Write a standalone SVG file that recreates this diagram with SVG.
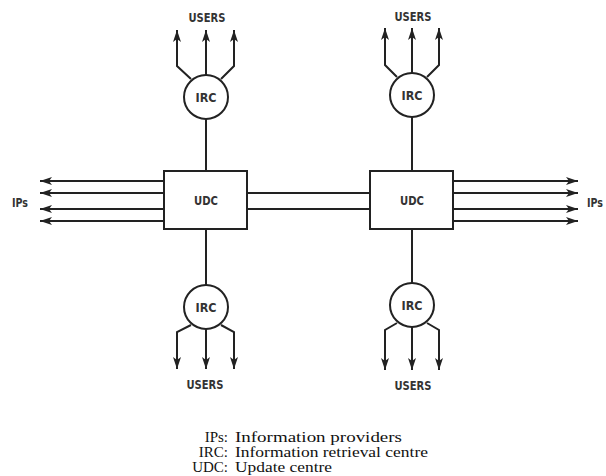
<svg xmlns="http://www.w3.org/2000/svg" width="606" height="476" viewBox="0 0 606 476">
<style>
.ln{stroke:#222;stroke-width:2;fill:none}
.box{stroke:#222;stroke-width:2;fill:#fff}
.lbl{font-family:"Liberation Sans Narrow","DejaVu Sans Condensed","Liberation Sans",sans-serif;font-weight:bold;font-size:12.5px;fill:#333;text-anchor:middle}
.leg{font-family:"Liberation Serif","Times New Roman",serif;font-size:15px;fill:#111}
</style>
<defs>
<marker id="ah" viewBox="0 0 12 8" refX="12" refY="4" markerWidth="12" markerHeight="8" markerUnits="userSpaceOnUse" orient="auto">
<path d="M0,0 L12,4 L0,8 L3,4 Z" fill="#222"/>
</marker>
</defs>
<rect width="606" height="476" fill="#fff"/>
<g id="connectors">
<path class="ln" d="M206,75 V30" marker-end="url(#ah)"/>
<path class="ln" d="M191,79 L177,66 V30" marker-end="url(#ah)"/>
<path class="ln" d="M221,79 L234,66 V30" marker-end="url(#ah)"/>
<line class="ln" x1="206" y1="119" x2="206" y2="171"/>
<path class="ln" d="M412,73 V28" marker-end="url(#ah)"/>
<path class="ln" d="M397,77 L385,65 V28" marker-end="url(#ah)"/>
<path class="ln" d="M427,77 L439,65 V28" marker-end="url(#ah)"/>
<line class="ln" x1="412" y1="117" x2="412" y2="171"/>
<line class="ln" x1="206" y1="229" x2="206" y2="285"/>
<path class="ln" d="M206,329 V369" marker-end="url(#ah)"/>
<path class="ln" d="M191,325 L177,332 V369" marker-end="url(#ah)"/>
<path class="ln" d="M221,325 L234,332 V369" marker-end="url(#ah)"/>
<line class="ln" x1="412" y1="229" x2="412" y2="283"/>
<path class="ln" d="M412,327 V370" marker-end="url(#ah)"/>
<path class="ln" d="M397,323 L385,330 V370" marker-end="url(#ah)"/>
<path class="ln" d="M427,323 L439,330 V370" marker-end="url(#ah)"/>
<line class="ln" x1="247" y1="193" x2="370" y2="193"/>
<line class="ln" x1="247" y1="209" x2="370" y2="209"/>
<line class="ln" x1="164" y1="181" x2="40" y2="181" marker-end="url(#ah)"/>
<line class="ln" x1="164" y1="193" x2="40" y2="193" marker-end="url(#ah)"/>
<line class="ln" x1="164" y1="209" x2="40" y2="209" marker-end="url(#ah)"/>
<line class="ln" x1="164" y1="221" x2="40" y2="221" marker-end="url(#ah)"/>
<line class="ln" x1="453" y1="181" x2="578" y2="181" marker-end="url(#ah)"/>
<line class="ln" x1="453" y1="193" x2="578" y2="193" marker-end="url(#ah)"/>
<line class="ln" x1="453" y1="209" x2="578" y2="209" marker-end="url(#ah)"/>
<line class="ln" x1="453" y1="221" x2="578" y2="221" marker-end="url(#ah)"/>
</g>
<g id="irc-top-left">
<circle class="box" cx="206" cy="97" r="22"/>
<text class="lbl" x="206" y="102" textLength="21" lengthAdjust="spacingAndGlyphs">IRC</text>
</g>
<g id="users-top-left"><text class="lbl" x="207" y="22" textLength="37" lengthAdjust="spacingAndGlyphs">USERS</text></g>
<g id="irc-top-right">
<circle class="box" cx="412" cy="95" r="22"/>
<text class="lbl" x="412" y="100" textLength="21" lengthAdjust="spacingAndGlyphs">IRC</text>
</g>
<g id="users-top-right"><text class="lbl" x="413" y="21" textLength="37" lengthAdjust="spacingAndGlyphs">USERS</text></g>
<g id="udc-left">
<rect class="box" x="164" y="171" width="83" height="58"/>
<text class="lbl" x="206" y="205" textLength="24" lengthAdjust="spacingAndGlyphs">UDC</text>
</g>
<g id="udc-right">
<rect class="box" x="370" y="171" width="83" height="58"/>
<text class="lbl" x="412" y="205" textLength="24" lengthAdjust="spacingAndGlyphs">UDC</text>
</g>
<g id="irc-bottom-left">
<circle class="box" cx="206" cy="307" r="22"/>
<text class="lbl" x="206" y="312" textLength="21" lengthAdjust="spacingAndGlyphs">IRC</text>
</g>
<g id="users-bottom-left"><text class="lbl" x="205" y="389" textLength="37" lengthAdjust="spacingAndGlyphs">USERS</text></g>
<g id="irc-bottom-right">
<circle class="box" cx="412" cy="305" r="22"/>
<text class="lbl" x="412" y="310" textLength="21" lengthAdjust="spacingAndGlyphs">IRC</text>
</g>
<g id="users-bottom-right"><text class="lbl" x="413" y="390" textLength="37" lengthAdjust="spacingAndGlyphs">USERS</text></g>
<g id="ips-left"><text class="lbl" x="20" y="207" textLength="16" lengthAdjust="spacingAndGlyphs">IPs</text></g>
<g id="ips-right"><text class="lbl" x="595" y="207" textLength="16" lengthAdjust="spacingAndGlyphs">IPs</text></g>
<g id="legend">
<text class="leg" x="228" y="442" text-anchor="end">IPs:</text>
<text class="leg" x="235" y="442" textLength="167" lengthAdjust="spacingAndGlyphs">Information providers</text>
<text class="leg" x="228" y="457" text-anchor="end">IRC:</text>
<text class="leg" x="235" y="457" textLength="193" lengthAdjust="spacingAndGlyphs">Information retrieval centre</text>
<text class="leg" x="228" y="472" text-anchor="end">UDC:</text>
<text class="leg" x="235" y="472" textLength="97" lengthAdjust="spacingAndGlyphs">Update centre</text>
</g>
</svg>
